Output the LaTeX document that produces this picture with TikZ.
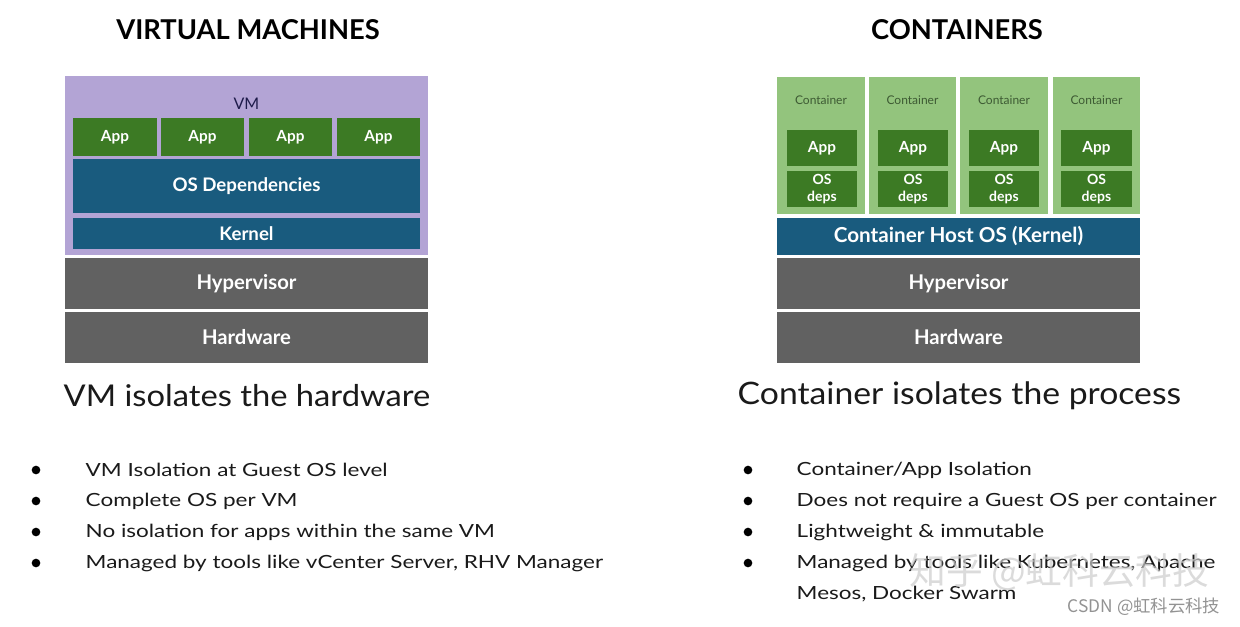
\documentclass[tikz,border=0pt]{standalone}
\usepackage{fontspec}
\setmainfont{Lato}
\newfontfamily\bulfont[FakeStretch=1.24]{Lato}
\newfontfamily\subfont[FakeStretch=1.09]{Lato}
\newfontfamily\cjkfont{Noto Sans CJK SC}
\definecolor{vmpurple}{HTML}{B3A4D5}
\definecolor{appgreen}{HTML}{3C7A24}
\definecolor{osblue}{HTML}{195B7E}
\definecolor{hvgray}{HTML}{616161}
\definecolor{ctgreen}{HTML}{93C47D}
\definecolor{ctlabel}{HTML}{3D5A33}
\definecolor{vmlabel}{HTML}{1E1B4A}
\definecolor{txt}{HTML}{1A1A1A}
\tikzset{
  blk/.style={inner sep=0pt, outer sep=0pt, text=white, font=\bfseries, align=center},
  vmbox/.style={blk, fill=vmpurple},
  appbox/.style={blk, fill=appgreen, font=\fontsize{11.5}{12}\bfseries},
  osbox/.style={blk, fill=osblue, font=\fontsize{14}{16}\bfseries},
  hvbox/.style={blk, fill=hvgray, font=\fontsize{15.2}{17}\bfseries},
  ctbox/.style={blk, fill=ctgreen},
  depsbox/.style={blk, fill=appgreen, font=\fontsize{10.5}{12.5}\bfseries},
  title/.style={font=\fontsize{20.5}{24}\bfseries, text=black},
  subtitle/.style={font=\subfont\fontsize{22.5}{26}\selectfont, text=txt, anchor=west},
  bullet/.style={circle, fill=black, inner sep=0pt, minimum size=6.5pt},
  btext/.style={font=\bulfont\fontsize{13.6}{16}\selectfont, text=txt, anchor=west},
  smalllabel/.style={font=\fontsize{9}{10}\selectfont, text=ctlabel},
}
% box from pixel corners (x1,y1) to (x2,y2)
\newcommand\boxat[7]{\node[#1, minimum width={(#5-#3)*0.75pt}, minimum height={(#6-#4)*0.75pt}] (#2) at ({(#3+#5)/2},{(#4+#6)/2}) {#7};}
\begin{document}
\begin{tikzpicture}[x=0.75pt,y=-0.75pt]
\useasboundingbox[fill=white] (0,0) rectangle (1240,626);

% ---------- Left: virtual machines ----------
\node[title] (t1) at (248,30) {VIRTUAL MACHINES};
\boxat{vmbox}{vm}{65}{76}{428}{255}{}
\node[font=\fontsize{12}{14}\selectfont, text=vmlabel] (vmlab) at (246.5,104) {VM};
\boxat{appbox}{a1}{73}{118}{157}{156}{App}
\boxat{appbox}{a2}{161}{118}{244}{156}{App}
\boxat{appbox}{a3}{249}{118}{332}{156}{App}
\boxat{appbox}{a4}{337}{118}{420}{156}{App}
\boxat{osbox}{osd}{73}{159}{420}{213}{OS Dependencies}
\boxat{osbox}{kern}{73}{218}{420}{249}{Kernel}
\boxat{hvbox}{hv1}{65}{258}{428}{309}{Hypervisor}
\boxat{hvbox}{hw1}{65}{312}{428}{363}{Hardware}

\node[subtitle] (s1) at (59,396) {VM isolates the hardware};

\node[bullet] (b11) at (36,470) {};
\node[bullet] (b12) at (36,501) {};
\node[bullet] (b13) at (36,532) {};
\node[bullet] (b14) at (36,563) {};
\node[btext] (l11) at (81,470) {VM Isolation at Guest OS level};
\node[btext] (l12) at (81,501) {Complete OS per VM};
\node[btext] (l13) at (81,532) {No isolation for apps within the same VM};
\node[btext] (l14) at (81,563) {Managed by tools like vCenter Server, RHV Manager};

% ---------- Right: containers ----------
\node[title] (t2) at (957,30) {CONTAINERS};
\boxat{ctbox}{c1}{777}{77}{865}{214}{}
\boxat{ctbox}{c2}{869}{77}{956}{214}{}
\boxat{ctbox}{c3}{960}{77}{1048}{214}{}
\boxat{ctbox}{c4}{1053}{77}{1140}{214}{}
\node[smalllabel] (cl1) at (821,100.5) {Container};
\node[smalllabel] (cl2) at (912.5,100.5) {Container};
\node[smalllabel] (cl3) at (1004,100.5) {Container};
\node[smalllabel] (cl4) at (1096.5,100.5) {Container};
\boxat{appbox}{ca1}{787}{130}{857}{166}{App}
\boxat{appbox}{ca2}{878}{130}{948}{166}{App}
\boxat{appbox}{ca3}{969}{130}{1039}{166}{App}
\boxat{appbox}{ca4}{1061}{130}{1132}{166}{App}
\boxat{depsbox}{cd1}{787}{171}{857}{207}{OS\\deps}
\boxat{depsbox}{cd2}{878}{171}{948}{207}{OS\\deps}
\boxat{depsbox}{cd3}{969}{171}{1039}{207}{OS\\deps}
\boxat{depsbox}{cd4}{1061}{171}{1132}{207}{OS\\deps}
\boxat{osbox, font=\fontsize{15.5}{17}\bfseries}{host}{777}{218}{1140}{255}{Container Host OS (Kernel)}
\boxat{hvbox}{hv2}{777}{258}{1140}{309}{Hypervisor}
\boxat{hvbox}{hw2}{777}{312}{1140}{363}{Hardware}

\node[subtitle, font=\subfont\fontsize{23.2}{26}\selectfont] (s2) at (733,396) {Container isolates the process};

\node[bullet] (b21) at (748,470) {};
\node[bullet] (b22) at (748,501) {};
\node[bullet] (b23) at (748,532) {};
\node[bullet] (b24) at (748,563) {};
\node[btext] (l21) at (792,470) {Container/App Isolation};
\node[btext] (l22) at (792,501) {Does not require a Guest OS per container};
\node[btext] (l23) at (792,532) {Lightweight \& immutable};
\node[btext] (l24) at (792,563) {Managed by tools like Kubernetes, Apache};
\node[btext] (l25) at (792,594) {Mesos, Docker Swarm};

% ---------- watermarks ----------
\node[font=\cjkfont\fontsize{27.5}{30}\selectfont, text=gray!40, opacity=0.7, anchor=west] (wm1) at (905,572) {知乎 @虹科云科技};
\node[font=\cjkfont\fontsize{13}{15}\selectfont, text=gray!85, anchor=east] (wm2) at (1225,607) {CSDN @虹科云科技};
\end{tikzpicture}
\end{document}
